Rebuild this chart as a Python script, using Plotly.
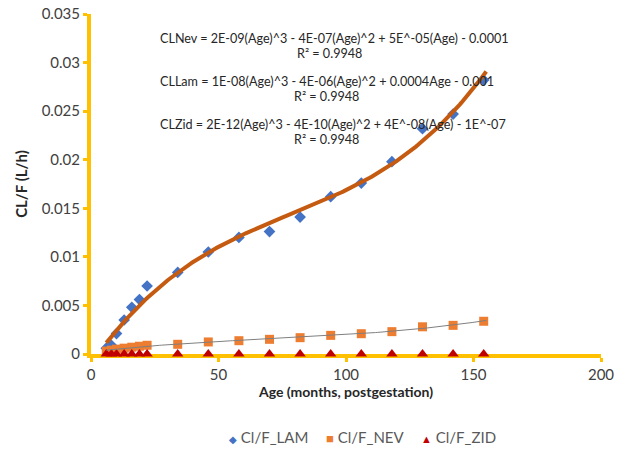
import numpy as np
import plotly.graph_objects as go

# ---- data ----
ages = [6, 8, 10, 13, 16, 19, 22, 34, 46, 58, 70, 82, 94, 106, 118, 130, 142, 154]
cl_lam = [0.0006, 0.0009, 0.0021, 0.0035, 0.0048, 0.0056, 0.0070, 0.0084, 0.0105,
          0.0120, 0.0126, 0.0141, 0.0162, 0.0176, 0.0198, 0.0232, 0.0247, 0.0282]
cl_nev = [0.0003, 0.0004, 0.0005, 0.0006, 0.0007, 0.0008, 0.0009, 0.0010, 0.00124,
          0.00137, 0.00151, 0.00168, 0.00192, 0.00209, 0.0023, 0.0028, 0.00295, 0.00337]
cl_zid = [0.0000001, 0.0000002, 0.0000003, 0.0000004, 0.0000005, 0.0000006, 0.0000007,
          0.000001, 0.0000013, 0.0000016, 0.0000019, 0.0000022, 0.0000025, 0.0000028,
          0.0000031, 0.0000034, 0.0000037, 0.000004]

series_names = ["Cl/F_LAM", "Cl/F_NEV", "Cl/F_ZID"]
series_colors = ["#4472C4", "#ED7D31", "#C00000"]
legend_glyphs = ["◆", "■", "▲"]

eq_nev = "CLNev = 2E-09(Age)^3 - 4E-07(Age)^2 + 5E^-05(Age) - 0.0001"
eq_lam = "CLLam = 1E-08(Age)^3 - 4E-06(Age)^2 + 0.0004Age - 0.001"
eq_zid = "CLZid = 2E-12(Age)^3 - 4E-10(Age)^2 + 4E^-08(Age) - 1E^-07"
r2_text = "R² = 0.9948"

# cubic trendlines fitted to the data (as Excel does)
xs = np.linspace(min(ages), 155, 200)
lam_fit = np.polyval(np.polyfit(ages, cl_lam, 3), xs)
nev_fit = np.polyval(np.polyfit(ages, cl_nev, 3), xs)

FONT = "Lato, 'Open Sans', sans-serif"
YEL = "#FFC000"

fig = go.Figure()
fig.add_trace(go.Scatter(x=ages, y=cl_lam, mode="markers", name=series_names[0],
                         marker=dict(symbol="diamond", size=9, color=series_colors[0]),
                         cliponaxis=False, showlegend=False))
fig.add_trace(go.Scatter(x=ages, y=cl_nev, mode="markers", name=series_names[1],
                         marker=dict(symbol="square", size=9, color=series_colors[1]),
                         cliponaxis=False, showlegend=False))
fig.add_trace(go.Scatter(x=ages, y=cl_zid, mode="markers", name=series_names[2],
                         marker=dict(symbol="triangle-up", size=10, color=series_colors[2]),
                         cliponaxis=False, showlegend=False))
fig.add_trace(go.Scatter(x=xs, y=lam_fit, mode="lines", showlegend=False,
                         line=dict(color="#C55A11", width=4), hoverinfo="skip"))
fig.add_trace(go.Scatter(x=xs, y=nev_fit, mode="lines", showlegend=False,
                         line=dict(color="#7F7F7F", width=1), hoverinfo="skip"))

def ann(x, y, text):
    fig.add_annotation(x=x, y=y, xref="x", yref="y", text=text, showarrow=False,
                       xanchor="center", yanchor="middle",
                       font=dict(family=FONT, size=12.6, color="#262626"))

ann(95.5, 0.03245, eq_nev)
ann(93.5, 0.03095, r2_text)
ann(92.5, 0.02805, eq_lam)
ann(92.5, 0.0265, r2_text)
ann(95.0, 0.0236, eq_zid)
ann(92.5, 0.0221, r2_text)

# legend drawn as text entries below the plot (paper x is relative to the plot area)
legend_px = [268, 365, 458]
glyph_sizes = [10, 13, 11]
for name, col, g, gs, lx in zip(series_names, series_colors, legend_glyphs, glyph_sizes, legend_px):
    fig.add_annotation(x=(lx - 91) / 510, y=(354 - 437) / 340, xref="paper", yref="paper",
                       text=f"<span style='color:{col};font-size:{gs}px'>{g}</span> {name}",
                       showarrow=False, xanchor="center", yanchor="middle",
                       font=dict(family=FONT, size=15, color="#595959"))

fig.update_layout(
    width=628, height=457,
    margin=dict(l=91, r=27, t=14, b=103),
    paper_bgcolor="white", plot_bgcolor="white",
    font=dict(family=FONT, size=15, color="#404040"),
    showlegend=False,
    xaxis=dict(range=[0, 200], tickvals=[0, 50, 100, 150, 200], showgrid=False,
               zeroline=False, showline=True, linecolor=YEL, linewidth=4,
               ticks="outside", ticklen=4, tickwidth=3, tickcolor=YEL,
               layer="below traces", automargin=False,
               tickfont=dict(family=FONT, size=15, color="#404040"),
               title=dict(text="<b>Age (months, postgestation)</b>",
                          font=dict(family=FONT, size=14, color="#262626"), standoff=5)),
    yaxis=dict(range=[0, 0.035], tickvals=[0, 0.005, 0.01, 0.015, 0.02, 0.025, 0.03, 0.035],
               ticktext=["0", "0.005", "0.01", "0.015", "0.02", "0.025", "0.03", "0.035"],
               showgrid=False, zeroline=False, showline=True, linecolor=YEL, linewidth=4,
               ticks="outside", ticklen=4, tickwidth=3, tickcolor=YEL,
               layer="below traces", automargin=False,
               tickfont=dict(family=FONT, size=15, color="#404040"),
               title=dict(text="<b>CL/F (L/h)</b>",
                          font=dict(family=FONT, size=15, color="#262626"), standoff=11)),
)

fig.write_html("out.html")
